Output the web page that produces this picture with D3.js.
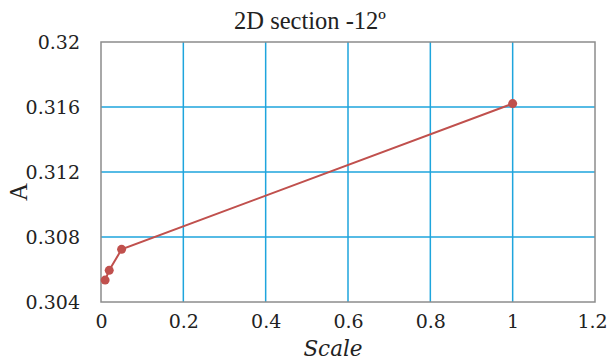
<!DOCTYPE html>
<html>
<head>
<meta charset="utf-8">
<script src="https://cdn.jsdelivr.net/npm/d3@7"></script>
<style>
body { margin: 0; background: #fff; }
svg text { font-family: "Liberation Serif", "DejaVu Serif", serif; fill: #222; }
svg .tick text, svg .lbl { font-family: "DejaVu Serif", serif; }
</style>
</head>
<body>
<script>
// dati
var scaleVals = [0.01, 0.02, 0.05, 1];
var aVals = [0.30535, 0.30595, 0.30724, 0.31621];
var xTicks = [0, 0.2, 0.4, 0.6, 0.8, 1, 1.2];
var yTicks = [0.304, 0.308, 0.312, 0.316, 0.32];
var xTickLabels = ["0", "0.2", "0.4", "0.6", "0.8", "1", "1.2"];
var yTickLabels = ["0.304", "0.308", "0.312", "0.316", "0.32"];

var margin = {top: 42, right: 14, bottom: 58, left: 101};
var width = 609 - margin.left - margin.right;
var height = 360 - margin.top - margin.bottom;

var svg = d3.select("body").append("svg")
    .attr("width", 609)
    .attr("height", 360);

var g = svg.append("g")
    .attr("transform", "translate(" + margin.left + "," + margin.top + ")");

var x = d3.scaleLinear().domain([0, 1.2]).range([0, width]);
var y = d3.scaleLinear().domain([0.304, 0.32]).range([height, 0]);

// griglia
g.selectAll(".vgrid").data(xTicks.slice(1, -1)).enter().append("line")
    .attr("x1", function(d){ return x(d); })
    .attr("x2", function(d){ return x(d); })
    .attr("y1", 0).attr("y2", height)
    .attr("stroke", "#1ea5dd").attr("stroke-width", 1.5);

g.selectAll(".hgrid").data(yTicks.slice(1, -1)).enter().append("line")
    .attr("x1", 0).attr("x2", width)
    .attr("y1", function(d){ return y(d); })
    .attr("y2", function(d){ return y(d); })
    .attr("stroke", "#1ea5dd").attr("stroke-width", 1.5);

// bordo
g.append("rect")
    .attr("x", 0).attr("y", 0)
    .attr("width", width).attr("height", height)
    .attr("fill", "none")
    .attr("stroke", "#8c8c8c").attr("stroke-width", 1.5);

// assi (solo etichette)
var xAxis = d3.axisBottom(x).tickValues(xTicks)
    .tickFormat(function(d, i){ return xTickLabels[i]; })
    .tickSize(0).tickPadding(13);
g.append("g").attr("transform", "translate(0," + height + ")")
    .call(xAxis)
    .attr("font-family", null)
    .call(function(a){ a.select(".domain").remove(); })
    .selectAll("text").style("font-size", "19px").attr("fill", "#222")
    // l'ultima etichetta va spostata un po' a sinistra per non uscire dal bordo
    .attr("dx", function(d, i){ return i == xTicks.length - 1 ? -3 : 0; });

var yAxis = d3.axisLeft(y).tickValues(yTicks)
    .tickFormat(function(d, i){ return yTickLabels[i]; })
    .tickSize(0).tickPadding(21);
g.append("g")
    .call(yAxis)
    .attr("font-family", null)
    .call(function(a){ a.select(".domain").remove(); })
    .selectAll("text").style("font-size", "19px").attr("fill", "#222");

// linea
var pts = scaleVals.map(function(d, i){ return [d, aVals[i]]; });
g.append("path")
    .datum(pts)
    .attr("fill", "none")
    .attr("stroke", "#c0504d")
    .attr("stroke-width", 2)
    .attr("d", d3.line().x(function(d){ return x(d[0]); }).y(function(d){ return y(d[1]); }));

g.selectAll(".pt").data(pts).enter().append("circle")
    .attr("cx", function(d){ return x(d[0]); })
    .attr("cy", function(d){ return y(d[1]); })
    .attr("r", 4.5)
    .attr("fill", "#c0504d");

// titolo ed etichette
svg.append("text")
    .attr("x", 310).attr("y", 29)
    .attr("text-anchor", "middle")
    .style("font-size", "24.5px")
    .text("2D section -12º");

svg.append("text")
    .attr("transform", "translate(27,192) rotate(-90)")
    .attr("text-anchor", "middle")
    .style("font-size", "25px")
    .text("A");

svg.append("text")
    .attr("class", "lbl")
    .attr("x", 333).attr("y", 356)
    .attr("text-anchor", "middle")
    .style("font-size", "21.5px")
    .style("font-style", "italic")
    .text("Scale");
</script>
</body>
</html>
